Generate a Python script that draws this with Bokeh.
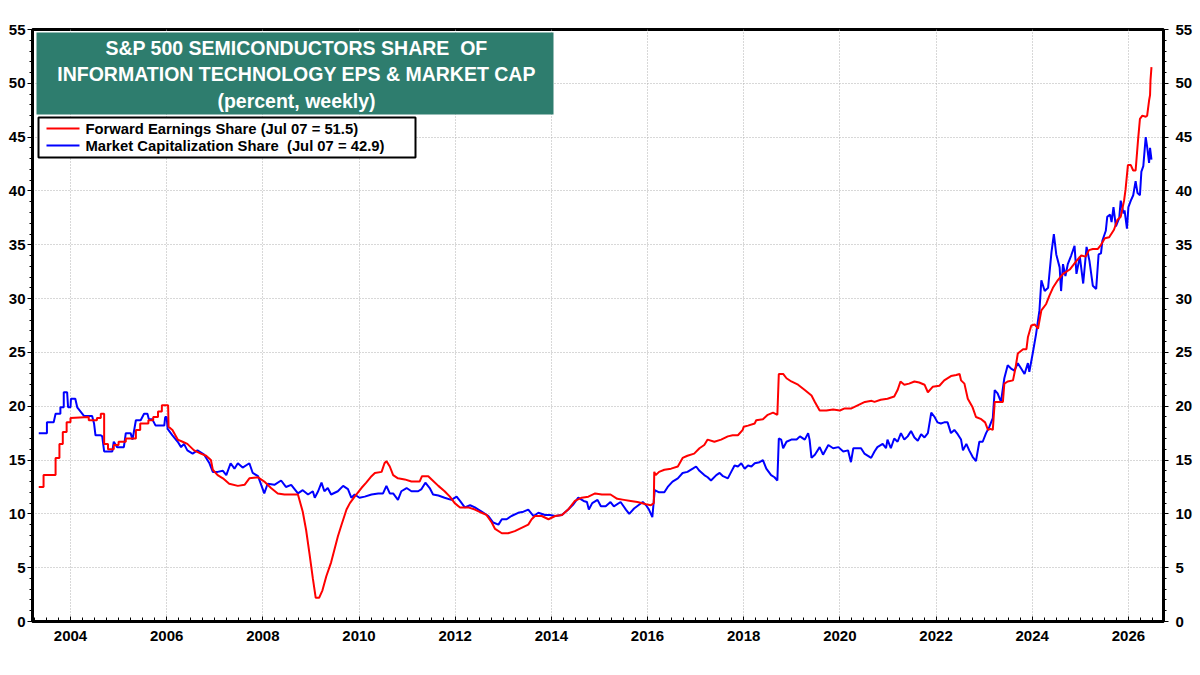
from bokeh.plotting import figure
from bokeh.models import (LinearAxis, FixedTicker, Range1d, BoxAnnotation, Label,
                          ColumnDataSource)
from bokeh.embed import file_html
from bokeh.resources import INLINE

# ---- data (decimal year, percent) ----
fwd_earn_t = [
    2003.34, 2003.44, 2003.44, 2003.69, 2003.69, 2003.77, 2003.77, 2003.84, 2003.84, 2003.92,
    2003.92, 2004.00, 2004.00, 2004.38, 2004.38, 2004.55, 2004.55, 2004.63, 2004.63, 2004.70,
    2004.70, 2004.78, 2004.78, 2004.90, 2004.90, 2005.00, 2005.00, 2005.15, 2005.15, 2005.36,
    2005.36, 2005.45, 2005.45, 2005.62, 2005.62, 2005.72, 2005.72, 2005.82, 2005.82, 2005.90,
    2005.90, 2006.03, 2006.04, 2006.12, 2006.23, 2006.33, 2006.43, 2006.57, 2006.71, 2006.82,
    2006.92, 2006.96, 2007.06, 2007.17, 2007.30, 2007.48, 2007.62, 2007.72, 2007.90, 2008.03,
    2008.17, 2008.31, 2008.45, 2008.73, 2008.83, 2008.90, 2008.97, 2009.04, 2009.10, 2009.17,
    2009.24, 2009.32, 2009.42, 2009.56, 2009.63, 2009.74, 2009.81, 2009.91, 2010.05, 2010.15,
    2010.26, 2010.33, 2010.47, 2010.53, 2010.57, 2010.64, 2010.71, 2010.81, 2010.95, 2011.09,
    2011.26, 2011.31, 2011.44, 2011.51, 2011.65, 2011.78, 2011.89, 2011.99, 2012.10, 2012.27,
    2012.41, 2012.55, 2012.65, 2012.76, 2012.83, 2012.97, 2013.10, 2013.24, 2013.38, 2013.52,
    2013.59, 2013.66, 2013.80, 2013.94, 2014.08, 2014.22, 2014.35, 2014.49, 2014.63, 2014.77,
    2014.91, 2015.05, 2015.23, 2015.37, 2015.51, 2015.65, 2015.79, 2015.97, 2016.07, 2016.13,
    2016.14, 2016.17, 2016.24, 2016.35, 2016.49, 2016.63, 2016.73, 2016.83, 2016.97, 2017.08,
    2017.18, 2017.25, 2017.39, 2017.53, 2017.67, 2017.77, 2017.88, 2017.98, 2018.00, 2018.09,
    2018.23, 2018.26, 2018.40, 2018.50, 2018.61, 2018.70, 2018.73, 2018.82, 2018.89, 2018.99,
    2019.13, 2019.27, 2019.41, 2019.48, 2019.58, 2019.72, 2019.86, 2020.00, 2020.10, 2020.24,
    2020.38, 2020.52, 2020.66, 2020.72, 2020.85, 2020.99, 2021.13, 2021.20, 2021.26, 2021.34,
    2021.44, 2021.55, 2021.65, 2021.76, 2021.83, 2021.93, 2022.07, 2022.17, 2022.31, 2022.42,
    2022.49, 2022.52, 2022.59, 2022.66, 2022.76, 2022.83, 2022.94, 2023.02, 2023.08, 2023.13,
    2023.18, 2023.22, 2023.32, 2023.39, 2023.42, 2023.49, 2023.60, 2023.65, 2023.70, 2023.81,
    2023.88, 2023.91, 2023.98, 2024.05, 2024.12, 2024.19, 2024.29, 2024.36, 2024.43, 2024.53,
    2024.64, 2024.78, 2024.92, 2025.02, 2025.11, 2025.18, 2025.26, 2025.36, 2025.43, 2025.51,
    2025.60, 2025.70, 2025.77, 2025.84, 2025.91, 2025.94, 2025.99, 2026.05, 2026.10, 2026.15,
    2026.20, 2026.24, 2026.29, 2026.36, 2026.39, 2026.43, 2026.45, 2026.46, 2026.48,
]
fwd_earn_v = [
    12.5, 12.5, 13.6, 13.6, 15.2, 15.2, 16.5, 16.5, 17.6, 17.6,
    18.5, 18.5, 18.9, 19.0, 18.7, 18.7, 18.9, 18.9, 19.3, 19.3,
    16.5, 16.5, 16.0, 16.0, 16.4, 16.4, 16.7, 16.7, 17.0, 17.0,
    17.8, 17.8, 18.4, 18.4, 18.7, 18.7, 19.0, 19.0, 19.5, 19.5,
    20.1, 20.1, 18.1, 17.8, 16.9, 16.7, 16.5, 15.9, 15.6, 15.4,
    15.0, 14.1, 13.6, 13.3, 12.8, 12.6, 12.7, 13.3, 13.4, 13.0,
    12.4, 11.9, 11.8, 11.8, 10.2, 8.5, 6.3, 4.0, 2.2, 2.2,
    2.9, 4.2, 5.5, 7.9, 8.9, 10.4, 11.0, 11.6, 12.4, 12.9,
    13.5, 13.8, 13.9, 14.7, 14.9, 14.4, 13.6, 13.3, 13.2, 13.0,
    13.0, 13.5, 13.5, 13.2, 12.6, 12.1, 11.6, 11.0, 10.6, 10.6,
    10.4, 10.1, 9.9, 9.2, 8.6, 8.2, 8.2, 8.4, 8.7, 9.0,
    9.5, 9.8, 9.8, 9.5, 9.8, 9.9, 10.4, 11.2, 11.5, 11.6,
    11.9, 11.8, 11.8, 11.4, 11.3, 11.2, 11.1, 10.9, 10.8, 11.0,
    13.9, 13.6, 13.9, 14.1, 14.2, 14.4, 15.2, 15.4, 15.6, 16.1,
    16.4, 16.9, 16.7, 16.9, 17.2, 17.3, 17.3, 17.8, 18.1, 18.2,
    18.4, 18.7, 18.8, 19.2, 19.4, 19.2, 23.0, 23.0, 22.6, 22.3,
    22.0, 21.5, 21.0, 20.4, 19.6, 19.6, 19.7, 19.6, 19.8, 19.8,
    20.1, 20.4, 20.5, 20.4, 20.6, 20.7, 20.9, 21.5, 22.3, 22.0,
    22.1, 22.3, 22.2, 22.0, 21.3, 21.8, 21.9, 22.4, 22.8, 22.9,
    23.0, 22.4, 22.1, 20.7, 19.9, 19.0, 18.8, 18.5, 17.8, 17.9,
    17.8, 20.4, 20.4, 20.4, 22.1, 22.3, 22.4, 23.5, 24.9, 25.3,
    25.3, 26.4, 27.5, 27.6, 27.2, 28.9, 29.5, 30.3, 31.0, 31.7,
    32.3, 32.7, 33.5, 34.0, 33.9, 34.5, 34.6, 34.6, 35.0, 35.6,
    35.7, 36.4, 37.3, 37.6, 39.1, 40.1, 42.4, 42.4, 41.9, 41.9,
    44.7, 46.7, 47.0, 46.9, 47.0, 48.4, 48.9, 50.3, 51.5,
]

mkt_cap_t = [
    2003.34, 2003.51, 2003.51, 2003.65, 2003.69, 2003.79, 2003.79, 2003.86, 2003.86, 2003.93,
    2003.95, 2004.00, 2004.01, 2004.10, 2004.14, 2004.21, 2004.28, 2004.45, 2004.49, 2004.52,
    2004.63, 2004.66, 2004.70, 2004.87, 2004.90, 2004.97, 2005.11, 2005.15, 2005.25, 2005.29,
    2005.36, 2005.46, 2005.53, 2005.60, 2005.63, 2005.70, 2005.77, 2005.95, 2005.97, 2006.00,
    2006.02, 2006.12, 2006.23, 2006.30, 2006.36, 2006.43, 2006.54, 2006.64, 2006.78, 2006.89,
    2006.96, 2007.06, 2007.17, 2007.24, 2007.33, 2007.41, 2007.48, 2007.58, 2007.72, 2007.79,
    2007.90, 2008.03, 2008.10, 2008.24, 2008.38, 2008.48, 2008.59, 2008.73, 2008.83, 2008.94,
    2009.04, 2009.08, 2009.15, 2009.22, 2009.28, 2009.35, 2009.42, 2009.56, 2009.67, 2009.77,
    2009.84, 2009.91, 2010.01, 2010.12, 2010.26, 2010.40, 2010.50, 2010.57, 2010.64, 2010.71,
    2010.81, 2010.88, 2010.99, 2011.09, 2011.23, 2011.30, 2011.38, 2011.47, 2011.54, 2011.65,
    2011.78, 2011.92, 2012.03, 2012.10, 2012.20, 2012.31, 2012.41, 2012.55, 2012.69, 2012.79,
    2012.90, 2012.97, 2013.07, 2013.17, 2013.31, 2013.42, 2013.52, 2013.63, 2013.73, 2013.87,
    2013.97, 2014.08, 2014.22, 2014.35, 2014.46, 2014.56, 2014.67, 2014.74, 2014.78, 2014.85,
    2014.96, 2015.03, 2015.13, 2015.23, 2015.30, 2015.44, 2015.55, 2015.62, 2015.72, 2015.90,
    2015.97, 2016.03, 2016.10, 2016.15, 2016.24, 2016.35, 2016.42, 2016.52, 2016.63, 2016.73,
    2016.83, 2016.94, 2017.01, 2017.08, 2017.18, 2017.25, 2017.32, 2017.43, 2017.50, 2017.57,
    2017.67, 2017.74, 2017.81, 2017.88, 2017.95, 2018.02, 2018.09, 2018.16, 2018.23, 2018.33,
    2018.40, 2018.47, 2018.57, 2018.64, 2018.70, 2018.73, 2018.78, 2018.82, 2018.89, 2018.99,
    2019.10, 2019.17, 2019.27, 2019.34, 2019.37, 2019.41, 2019.48, 2019.58, 2019.65, 2019.76,
    2019.86, 2019.97, 2020.07, 2020.17, 2020.23, 2020.28, 2020.38, 2020.44, 2020.51, 2020.65,
    2020.72, 2020.78, 2020.89, 2020.96, 2020.99, 2021.06, 2021.13, 2021.20, 2021.27, 2021.34,
    2021.41, 2021.48, 2021.55, 2021.62, 2021.69, 2021.76, 2021.83, 2021.90, 2021.97, 2022.03,
    2022.10, 2022.17, 2022.24, 2022.31, 2022.38, 2022.45, 2022.52, 2022.56, 2022.63, 2022.69,
    2022.76, 2022.83, 2022.90, 2022.97, 2023.04, 2023.11, 2023.18, 2023.22, 2023.28, 2023.35,
    2023.42, 2023.49, 2023.56, 2023.63, 2023.70, 2023.77, 2023.84, 2023.91, 2023.94, 2024.01,
    2024.08, 2024.15, 2024.19, 2024.26, 2024.33, 2024.40, 2024.45, 2024.50, 2024.57, 2024.60,
    2024.64, 2024.69, 2024.74, 2024.81, 2024.88, 2024.92, 2024.99, 2025.06, 2025.13, 2025.19,
    2025.26, 2025.33, 2025.38, 2025.43, 2025.46, 2025.53, 2025.56, 2025.62, 2025.65, 2025.69,
    2025.74, 2025.81, 2025.84, 2025.90, 2025.92, 2025.97, 2026.00, 2026.05, 2026.10, 2026.15,
    2026.19, 2026.24, 2026.27, 2026.31, 2026.36, 2026.39, 2026.43, 2026.45, 2026.48,
]
mkt_cap_v = [
    17.5, 17.5, 18.5, 18.5, 19.3, 19.3, 19.9, 19.9, 21.3, 21.3,
    19.9, 19.9, 20.7, 20.7, 19.9, 19.5, 19.1, 19.1, 18.4, 17.3,
    17.3, 17.2, 15.8, 15.8, 16.7, 16.2, 16.2, 17.5, 17.5, 16.9,
    18.7, 18.7, 19.3, 19.3, 18.8, 18.8, 18.2, 18.2, 19.0, 19.0,
    17.9, 17.3, 16.7, 16.2, 16.5, 15.9, 15.6, 15.9, 15.5, 14.7,
    13.9, 13.9, 14.0, 13.6, 14.7, 14.2, 14.7, 14.3, 14.7, 13.8,
    13.5, 11.9, 12.8, 12.7, 13.1, 12.5, 12.7, 11.9, 12.2, 11.8,
    12.1, 11.5, 12.1, 12.9, 12.1, 12.4, 11.8, 12.1, 12.6, 12.3,
    11.5, 11.8, 11.5, 11.6, 11.8, 11.9, 11.9, 12.6, 11.9, 11.9,
    11.3, 12.1, 12.4, 12.1, 12.1, 12.3, 12.9, 12.4, 11.8, 11.7,
    11.5, 11.3, 11.6, 11.2, 10.6, 10.8, 10.6, 10.2, 9.8, 9.2,
    9.0, 9.5, 9.5, 9.8, 10.1, 10.2, 10.4, 9.8, 10.1, 9.9,
    9.9, 9.8, 9.9, 10.4, 10.9, 11.5, 11.2, 11.1, 10.4, 11.0,
    11.3, 10.7, 10.7, 11.1, 10.7, 11.1, 10.4, 10.0, 10.5, 11.1,
    10.8, 10.4, 9.7, 12.2, 12.0, 12.0, 12.5, 13.0, 13.3, 13.8,
    13.9, 14.2, 14.4, 14.0, 13.6, 13.4, 13.1, 13.6, 13.8, 13.5,
    13.3, 13.9, 14.5, 14.4, 14.7, 14.2, 14.5, 14.4, 14.7, 14.8,
    15.0, 14.2, 13.6, 13.4, 13.1, 17.0, 16.9, 16.1, 16.7, 16.9,
    16.9, 17.2, 16.9, 17.5, 16.9, 15.2, 15.5, 16.2, 15.5, 16.4,
    16.1, 16.2, 15.8, 15.9, 14.8, 16.1, 16.1, 16.1, 15.6, 15.2,
    15.8, 16.2, 16.5, 16.1, 16.9, 16.1, 17.0, 16.7, 17.5, 16.9,
    17.2, 17.7, 17.1, 16.8, 17.4, 17.1, 17.5, 19.4, 19.0, 18.5,
    18.4, 18.5, 18.5, 17.5, 17.8, 17.4, 16.9, 15.9, 16.5, 15.9,
    15.3, 14.9, 16.7, 16.7, 17.5, 18.1, 18.9, 21.5, 21.2, 20.4,
    22.6, 23.8, 23.5, 23.3, 24.0, 23.5, 23.0, 24.0, 23.2, 24.9,
    26.7, 28.9, 31.7, 30.7, 31.0, 34.3, 36.0, 34.1, 32.9, 30.7,
    33.2, 32.1, 33.2, 34.0, 34.9, 32.3, 33.9, 31.4, 34.8, 33.5,
    31.2, 30.9, 34.1, 34.2, 35.4, 36.3, 37.6, 37.8, 37.1, 38.5,
    36.7, 37.5, 39.1, 37.9, 38.2, 36.5, 38.5, 39.1, 39.6, 40.9,
    39.8, 39.6, 41.8, 42.3, 45.0, 44.1, 42.6, 44.0, 42.9,
]

year_ticks = [2004, 2006, 2008, 2010, 2012, 2014, 2016, 2018, 2020, 2022, 2024, 2026]
year_labels = ["2004", "2006", "2008", "2010", "2012", "2014", "2016", "2018", "2020",
               "2022", "2024", "2026"]
pct_ticks = [0, 5, 10, 15, 20, 25, 30, 35, 40, 45, 50, 55]

title_lines = ["S&P 500 SEMICONDUCTORS SHARE\u00a0 OF",
               "INFORMATION TECHNOLOGY EPS & MARKET CAP",
               "(percent, weekly)"]
legend_labels = ["Forward Earnings Share (Jul 07 = 51.5)",
                 "Market Capitalization Share\u00a0 (Jul 07 = 42.9)"]
source_text = "Source: LSEG Datastream and \u00a9 Yardeni Research. Standard & Poor's and I/B/E/S."

FONT = "Liberation Sans"
RED = "#ff0000"
BLUE = "#0000ff"

p = figure(width=1200, height=675, x_range=Range1d(2003.21, 2026.73), y_range=Range1d(0, 55),
           output_backend="svg", toolbar_location=None,
           min_border_left=32, min_border_right=37, min_border_top=29, min_border_bottom=54,
           background_fill_color="white", border_fill_color="white")

p.outline_line_color = "black"
p.outline_line_width = 3

# grid: dotted grey at every two years / every 5 percent
for g in (p.xgrid, p.ygrid):
    g.grid_line_color = "#b0b0b0"
    g.grid_line_dash = "1 2"
    g.grid_line_width = 1
p.xgrid.ticker = FixedTicker(ticks=year_ticks)
p.ygrid.ticker = FixedTicker(ticks=pct_ticks)

quarter_ticks = [2003.25 + 0.25 * i for i in range(94)]
xa = p.xaxis[0]
xa.ticker = FixedTicker(ticks=year_ticks, minor_ticks=quarter_ticks)
xa.major_label_overrides = {t: s for t, s in zip(year_ticks, year_labels)}

ya = p.yaxis[0]
ya.ticker = FixedTicker(ticks=pct_ticks, minor_ticks=list(range(0, 56)))
ra = LinearAxis(ticker=FixedTicker(ticks=pct_ticks, minor_ticks=list(range(0, 56))))
p.add_layout(ra, "right")

for ax in (xa, ya, ra):
    ax.axis_line_color = "black"
    ax.axis_line_width = 3
    ax.major_tick_line_color = "black"
    ax.minor_tick_line_color = "black"
    ax.major_tick_line_width = 1
    ax.minor_tick_line_width = 1
    ax.major_label_text_font = FONT
    ax.major_label_text_font_style = "bold"
    ax.major_label_text_font_size = "15px"
    ax.major_label_text_color = "black"

xa.major_tick_in = 5
xa.major_tick_out = 0
xa.minor_tick_in = 4
xa.minor_tick_out = 0
xa.major_label_standoff = 9

for ax in (ya, ra):
    ax.major_tick_in = 0
    ax.major_tick_out = 5
    ax.minor_tick_in = 0
    ax.minor_tick_out = 3
ya.major_label_standoff = 2
ra.major_label_standoff = 7

# series
blue_src = ColumnDataSource(data=dict(t=mkt_cap_t, v=mkt_cap_v))
red_src = ColumnDataSource(data=dict(t=fwd_earn_t, v=fwd_earn_v))
p.line(x="t", y="v", source=blue_src, line_color=BLUE, line_width=2)
p.line(x="t", y="v", source=red_src, line_color=RED, line_width=2)

# title panel (screen units measured from the frame's bottom-left corner)
p.add_layout(BoxAnnotation(left=4, right=521, top=589, bottom=507,
                           left_units="screen", right_units="screen",
                           top_units="screen", bottom_units="screen",
                           fill_color="#2e7d6e", fill_alpha=1.0, line_alpha=0))
for i, line in enumerate(title_lines):
    p.add_layout(Label(x=264, y=574 - 26.5 * i, x_units="screen", y_units="screen",
                       text=line, text_align="center", text_baseline="middle",
                       text_font=FONT, text_font_style="bold", text_font_size="19.5px",
                       text_color="white"))

# legend panel
p.add_layout(BoxAnnotation(left=6, right=383, top=504, bottom=464,
                           left_units="screen", right_units="screen",
                           top_units="screen", bottom_units="screen",
                           fill_color="white", fill_alpha=1.0,
                           line_color="black", line_width=2, line_alpha=1.0))
for i, (lab, col) in enumerate(zip(legend_labels, [RED, BLUE])):
    yc = 493 - 17 * i
    p.add_layout(BoxAnnotation(left=14, right=47, top=yc + 1, bottom=yc - 1,
                               left_units="screen", right_units="screen",
                               top_units="screen", bottom_units="screen",
                               fill_color=col, fill_alpha=1.0, line_alpha=0))
    p.add_layout(Label(x=53, y=yc, x_units="screen", y_units="screen",
                       text=lab, text_align="left", text_baseline="middle",
                       text_font=FONT, text_font_style="bold", text_font_size="14.8px",
                       text_color="black"))

p.add_layout(Label(x=8, y=-41, x_units="screen", y_units="screen",
                   text=source_text, text_align="left", text_baseline="middle",
                   text_font=FONT, text_font_style="bold", text_font_size="14.6px",
                   text_color="black"))

open("out.html", "w").write(file_html(p, INLINE))
